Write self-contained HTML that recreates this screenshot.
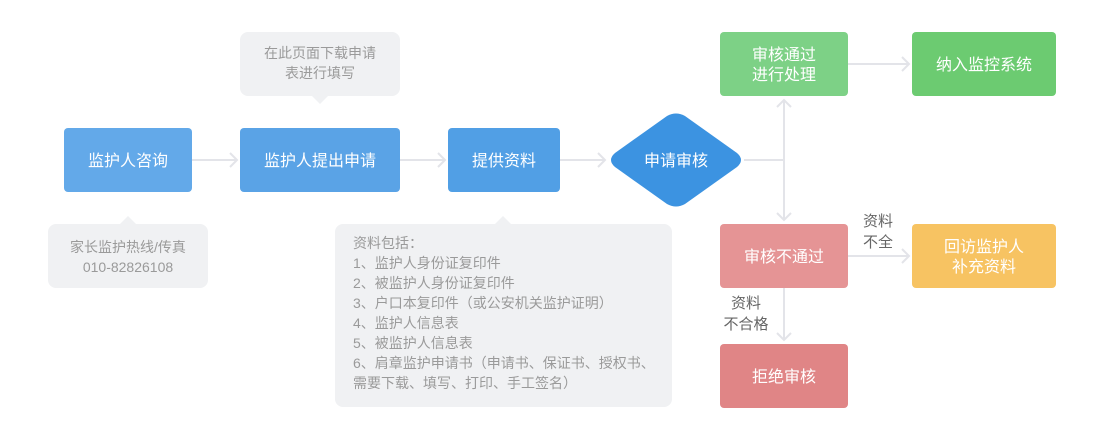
<!DOCTYPE html>
<html><head><meta charset="utf-8"><style>
html,body{margin:0;padding:0;background:#fff;}
svg{display:block;}
text{font-family:"Liberation Sans","Noto Sans CJK SC",sans-serif;}
</style></head><body>
<svg width="1120" height="440" viewBox="0 0 1120 440" xmlns="http://www.w3.org/2000/svg">
<!-- callouts -->
<g fill="#f0f1f3">
<rect x="240" y="32" width="160" height="64" rx="8"/>
<polygon points="311,95 329,95 320,104"/>
<rect x="48" y="224" width="160" height="64" rx="8"/>
<polygon points="119,225 137,225 128,216"/>
<rect x="335" y="224" width="337" height="183" rx="8"/>
<polygon points="494,225 512,225 503,216"/>
</g>
<g font-size="14" fill="#9a9a9a" text-anchor="middle">
<text x="320" y="58">在此页面下载申请</text>
<text x="320" y="78">表进行填写</text>
<text x="128" y="252">家长监护热线/传真</text>
<text x="128" y="272">010-82826108</text>
</g>
<g font-size="14" fill="#9a9a9a">
<text x="353" y="248">资料包括：</text>
<text x="353" y="268">1、监护人身份证复印件</text>
<text x="353" y="288">2、被监护人身份证复印件</text>
<text x="353" y="308">3、户口本复印件（或公安机关监护证明）</text>
<text x="353" y="328">4、监护人信息表</text>
<text x="353" y="348">5、被监护人信息表</text>
<text x="353" y="368">6、肩章监护申请书（申请书、保证书、授权书、</text>
<text x="353" y="388">需要下载、填写、打印、手工签名）</text>
</g>
<!-- connectors -->
<g stroke="#e3e4e9" stroke-width="2" fill="none">
<line x1="192" y1="160" x2="237" y2="160"/>
<polyline points="230,153 237,160 230,167"/>
<line x1="400" y1="160" x2="445" y2="160"/>
<polyline points="438,153 445,160 438,167"/>
<line x1="560" y1="160" x2="605" y2="160"/>
<polyline points="598,153 605,160 598,167"/>
<line x1="744" y1="160" x2="784" y2="160"/>
<line x1="784" y1="100" x2="784" y2="220"/>
<polyline points="777,107 784,100 791,107"/>
<polyline points="777,213 784,220 791,213"/>
<line x1="848" y1="64" x2="909" y2="64"/>
<polyline points="902,57 909,64 902,71"/>
<line x1="848" y1="256" x2="909" y2="256"/>
<polyline points="902,249 909,256 902,263"/>
<line x1="784" y1="288" x2="784" y2="340"/>
<polyline points="777,333 784,340 791,333"/>
</g>
<!-- boxes -->
<rect x="64" y="128" width="128" height="64" rx="4" fill="#63a9e9"/>
<rect x="240" y="128" width="160" height="64" rx="4" fill="#5aa3e6"/>
<rect x="448" y="128" width="112" height="64" rx="4" fill="#519fe5"/>
<path d="M667,116 Q676,111 685,116 L737,153 Q745,160 737,167 L685,204 Q676,209 667,204 L615,167 Q607,160 615,153 Z" fill="#3c93e1"/>
<rect x="720" y="32" width="128" height="64" rx="4" fill="#7dd186"/>
<rect x="912" y="32" width="144" height="64" rx="4" fill="#6ccb71"/>
<rect x="720" y="224" width="128" height="64" rx="4" fill="#e59495"/>
<rect x="912" y="224" width="144" height="64" rx="4" fill="#f7c362"/>
<rect x="720" y="344" width="128" height="64" rx="4" fill="#e08586"/>
<g font-size="16" fill="#ffffff" text-anchor="middle">
<text x="128" y="166">监护人咨询</text>
<text x="320" y="166">监护人提出申请</text>
<text x="504" y="166">提供资料</text>
<text x="676" y="166">申请审核</text>
<text x="784" y="60">审核通过</text>
<text x="784" y="80">进行处理</text>
<text x="984" y="70">纳入监控系统</text>
<text x="784" y="262">审核不通过</text>
<text x="984" y="252">回访监护人</text>
<text x="984" y="272">补充资料</text>
<text x="784" y="382">拒绝审核</text>
</g>
<g font-size="15" fill="#666666" text-anchor="middle">
<text x="878" y="226">资料</text>
<text x="878" y="247">不全</text>
<text x="746" y="308">资料</text>
<text x="746" y="329">不合格</text>
</g>
</svg>
</body></html>
